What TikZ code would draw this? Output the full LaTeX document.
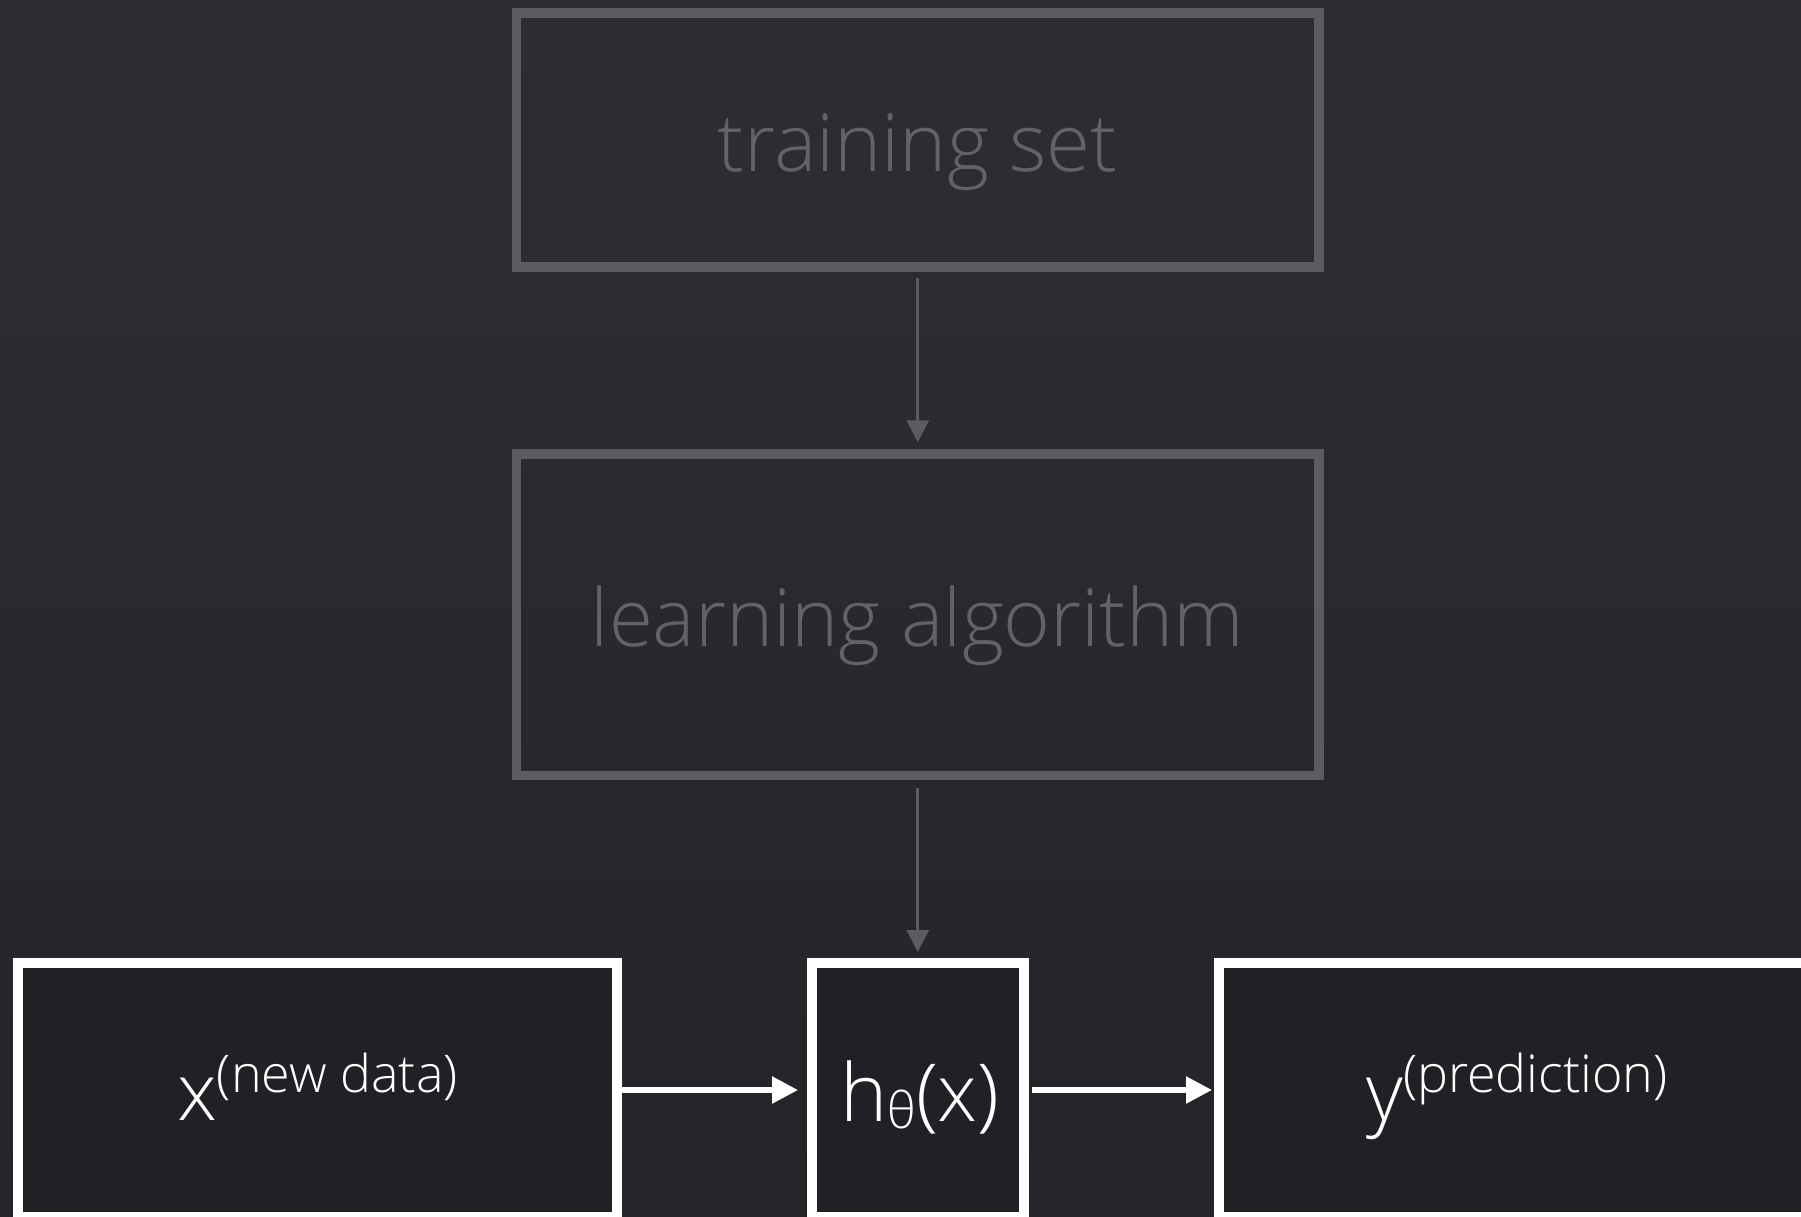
\documentclass[tikz,border=0pt]{standalone}
\usepackage{fontspec}
\setmainfont{Open Sans Light}
\usetikzlibrary{arrows.meta}
\definecolor{bgtop}{HTML}{2C2E32}
\definecolor{bgbot}{HTML}{232529}
\definecolor{dimline}{HTML}{5A5C60}
\definecolor{dimtext}{HTML}{626366}
\definecolor{boxfill}{HTML}{1F2124}
\newcommand{\bigsize}{\fontsize{80}{96}\selectfont}
\newcommand{\supsize}{\fontsize{52}{62}\selectfont}
\newcommand{\subsize}{\fontsize{50}{60}\selectfont}
\begin{document}
\begin{tikzpicture}[x=1pt,y=-1pt,
  dimbox/.style={rectangle, draw=dimline, line width=9.5pt, inner sep=0pt},
  litbox/.style={rectangle, draw=white, fill=boxfill, line width=10pt, inner sep=0pt},
  dimarrow/.style={draw=dimline, line width=3pt, -{Triangle[width=22pt,length=22pt]}},
  litarrow/.style={draw=white, line width=5.5pt, -{Triangle[width=26pt,length=26pt]}},
  dimlabel/.style={anchor=base, inner sep=0pt, text=dimtext, font=\bigsize},
  litlabel/.style={anchor=base, inner sep=0pt, text=white, font=\bigsize},
]
\useasboundingbox (0,0) rectangle (1801,1217);
\clip (0,0) rectangle (1801,1217);
\shade[top color=bgtop, bottom color=bgbot] (0,0) rectangle (1801,1217);

% upper, dimmed stage: data and learner
\node[dimbox, minimum width=802.5pt, minimum height=254pt] (train) at (917.75,140) {};
\node[dimlabel] (trainlbl) at (917.75,172) {training set};
\node[dimbox, minimum width=802.5pt, minimum height=321.7pt] (learn) at (917.75,614.85) {};
\node[dimlabel] (learnlbl) at (917.75,646) {learning algorithm};

% lower, highlighted stage: applying the hypothesis
\node[litbox, minimum width=599pt, minimum height=254pt] (xbox) at (317.5,1090) {};
\node[litbox, minimum width=212pt, minimum height=254pt] (hbox) at (918,1090) {};
\node[litbox, minimum width=599pt, minimum height=254pt] (ybox) at (1518,1090) {};

\node[litlabel] (xlbl) at (317.5,1120) {x\raisebox{28pt}{\supsize(new data)}};
\node[litlabel] (hlbl) at (920,1121.7) {h\raisebox{-6.5pt}{\subsize θ}(x)};
\node[litlabel] (ylbl) at (1517,1120) {y\raisebox{28pt}{\supsize(prediction)}};

% connectors
\draw[dimarrow, shorten <=6pt, shorten >=7pt] (train.south) -- (learn.north);
\draw[dimarrow, shorten <=7.5pt, shorten >=6pt] (learn.south) -- (learn.south |- hbox.north);
\draw[litarrow, shorten >=9pt] (xbox.east) -- (hbox.west);
\draw[litarrow, shorten <=3pt, shorten >=1.5pt] (hbox.east) -- (ybox.west);
\end{tikzpicture}
\end{document}
